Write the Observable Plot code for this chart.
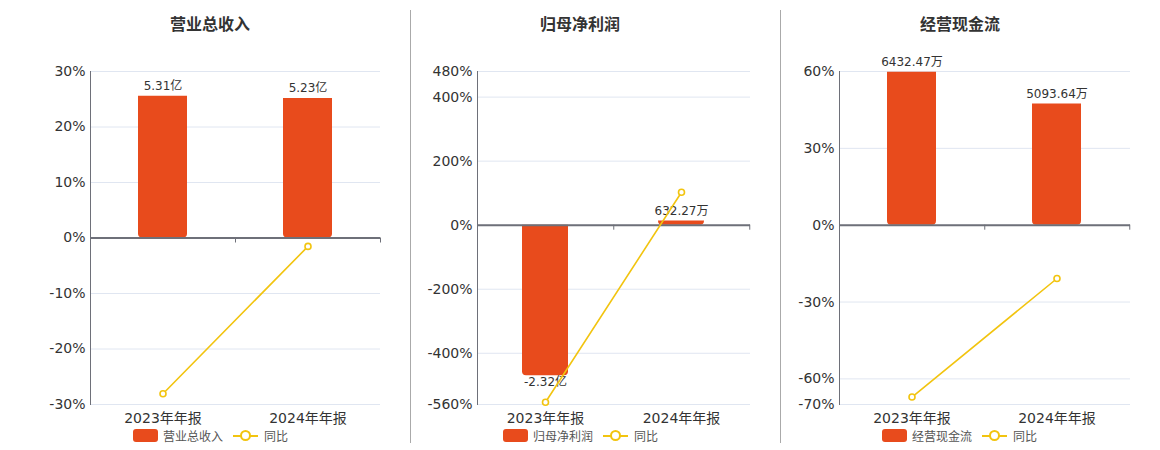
<!DOCTYPE html>
<html><head><meta charset="utf-8">
<script src="https://cdn.jsdelivr.net/npm/d3@7"></script>
<script src="https://cdn.jsdelivr.net/npm/@observablehq/plot@0.6"></script>
<style>
body{margin:0;background:#fff;font-family:"DejaVu Sans","Noto Sans CJK SC",sans-serif;}
#root{position:relative;width:1160px;height:450px;overflow:hidden;background:#fff;}
.title{position:absolute;top:13px;line-height:20px;font-size:16px;font-weight:bold;color:#333;transform:translateX(-50%);white-space:nowrap;font-family:"Noto Sans CJK SC",sans-serif;}
.sep{position:absolute;top:10px;height:433px;width:1px;background:#aaa;}
.chart{position:absolute;top:0;}
.lg{position:absolute;font-size:12px;line-height:14px;color:#555;white-space:nowrap;font-family:"Noto Sans CJK SC",sans-serif;}
.sw{position:absolute;top:429px;width:25px;height:13px;border-radius:3px;background:#E84B1C;}
.ls{position:absolute;top:429px;width:25px;height:13px;}
.ls::before{content:"";position:absolute;left:0;right:0;top:5.5px;height:2px;background:#F2C40F;}
.ls::after{content:"";position:absolute;left:7px;top:1px;width:7px;height:7px;border:2px solid #F2C40F;border-radius:50%;background:#fff;}
</style>
</head><body><div id="root"></div>
<script>
// ---- data ----
const categories = ["2023年年报", "2024年年报"];

const revenueTitle = "营业总收入";
const revenueValues = [5.31, 5.23];            // 亿
const revenueLabels = ["5.31亿", "5.23亿"];
const revenueYoY = [-28.06, -1.51];            // %
const revenueTicks = [-30, -20, -10, 0, 10, 20, 30];
const revenueBarAtTop = 6.24;                  // hidden bar axis value at top tick (亿)

const profitTitle = "归母净利润";
const profitValues = [-23200, 632.27];         // 万
const profitLabels = ["-2.32亿", "632.27万"];
const profitYoY = [-553, 102.73];
const profitTicks = [-560, -400, -200, 0, 200, 400, 480];
const profitBarAtTop = 23693;                  // 万 at 480%

const cashTitle = "经营现金流";
const cashValues = [6432.47, 5093.64];         // 万
const cashLabels = ["6432.47万", "5093.64万"];
const cashYoY = [-67.1, -20.81];
const cashTicks = [-70, -60, -30, 0, 30, 60];
const cashBarAtTop = 6462;                     // 万 at 60%

const yoyName = "同比";

// ---- style ----
const BAR = "#E84B1C", LINE = "#F2C40F", AXIS = "#6E7079", GRID = "#E0E6F1";
const H = 430, MT = 71, MB = 26;
const root = document.getElementById("root");

function add(cls, x, text) {
  const e = document.createElement("div");
  e.className = cls; e.style.left = x + "px";
  if (text != null) e.textContent = text;
  root.appendChild(e);
  return e;
}

function panel(cfg) {
  const {left, width, mL, mR, title, titleX, legendX, values, labels, yoy, ticks, barAtTop} = cfg;
  const top = ticks[ticks.length - 1], bottom = ticks[0];
  const data = categories.map((c, i) => ({
    cat: c, bar: values[i] / barAtTop * top, label: labels[i], yoy: yoy[i], neg: values[i] < 0
  }));
  const plotW = width - mL - mR;
  const step = plotW / categories.length;
  const tickLen = (top - bottom) / (H - MT - MB) * 5;
  const chart = Plot.plot({
    width, height: H, marginLeft: mL, marginRight: mR, marginTop: MT, marginBottom: MB,
    style: {fontFamily: '"DejaVu Sans","Noto Sans CJK SC",sans-serif', color: "#333", background: "transparent", overflow: "visible"},
    x: {type: "band", domain: categories, paddingInner: 0.66, paddingOuter: 0.33},
    y: {domain: [bottom, top]},
    marks: [
      Plot.ruleY(ticks, {stroke: GRID, strokeWidth: 1}),
      Plot.barY(data, {x: "cat", y: "bar", fill: BAR, rx1y2: 4, rx2y2: 4}),
      Plot.ruleY([0], {stroke: AXIS, strokeWidth: 2}),
      Plot.ruleX(categories, {x: d => d, dx: step / 2, y1: 0, y2: -tickLen, stroke: AXIS, strokeWidth: 1}),
      Plot.frame({anchor: "left", stroke: AXIS, strokeWidth: 1}),
      Plot.text(data.filter(d => !d.neg), {x: "cat", y: "bar", text: "label", dy: -10, fontSize: 12, fill: "#333"}),
      Plot.text(data.filter(d => d.neg), {x: "cat", y: "bar", text: "label", dy: 6, fontSize: 12, fill: "#333"}),
      Plot.lineY(data, {x: "cat", y: "yoy", stroke: LINE, strokeWidth: 1.6}),
      Plot.dot(data, {x: "cat", y: "yoy", r: 3, fill: "#fff", stroke: LINE, strokeWidth: 1.6}),
      Plot.axisY({ticks, tickFormat: d => d + "%", tickSize: 0, tickPadding: 5, fontSize: 14, fill: "#333"}),
      Plot.axisX({tickSize: 0, tickPadding: 9, fontSize: 14, fill: "#333", label: null})
    ]
  });
  const wrap = add("chart", left);
  wrap.appendChild(chart);

  add("title", titleX, title);

  add("sw", legendX);
  add("lg", legendX + 30, title).style.top = "429px";
  add("ls", legendX + 100);
  add("lg", legendX + 131, yoyName).style.top = "429px";
}

panel({left: 0, width: 390, mL: 90, mR: 10, title: revenueTitle, titleX: 210, legendX: 133,
  values: revenueValues, labels: revenueLabels, yoy: revenueYoY, ticks: revenueTicks, barAtTop: revenueBarAtTop});
panel({left: 412, width: 348, mL: 65, mR: 10, title: profitTitle, titleX: 580, legendX: 503,
  values: profitValues, labels: profitLabels, yoy: profitYoY, ticks: profitTicks, barAtTop: profitBarAtTop});
panel({left: 782, width: 358, mL: 57, mR: 10, title: cashTitle, titleX: 960, legendX: 882,
  values: cashValues, labels: cashLabels, yoy: cashYoY, ticks: cashTicks, barAtTop: cashBarAtTop});

[410, 780].forEach(x => add("sep", x));
</script>
</body></html>
